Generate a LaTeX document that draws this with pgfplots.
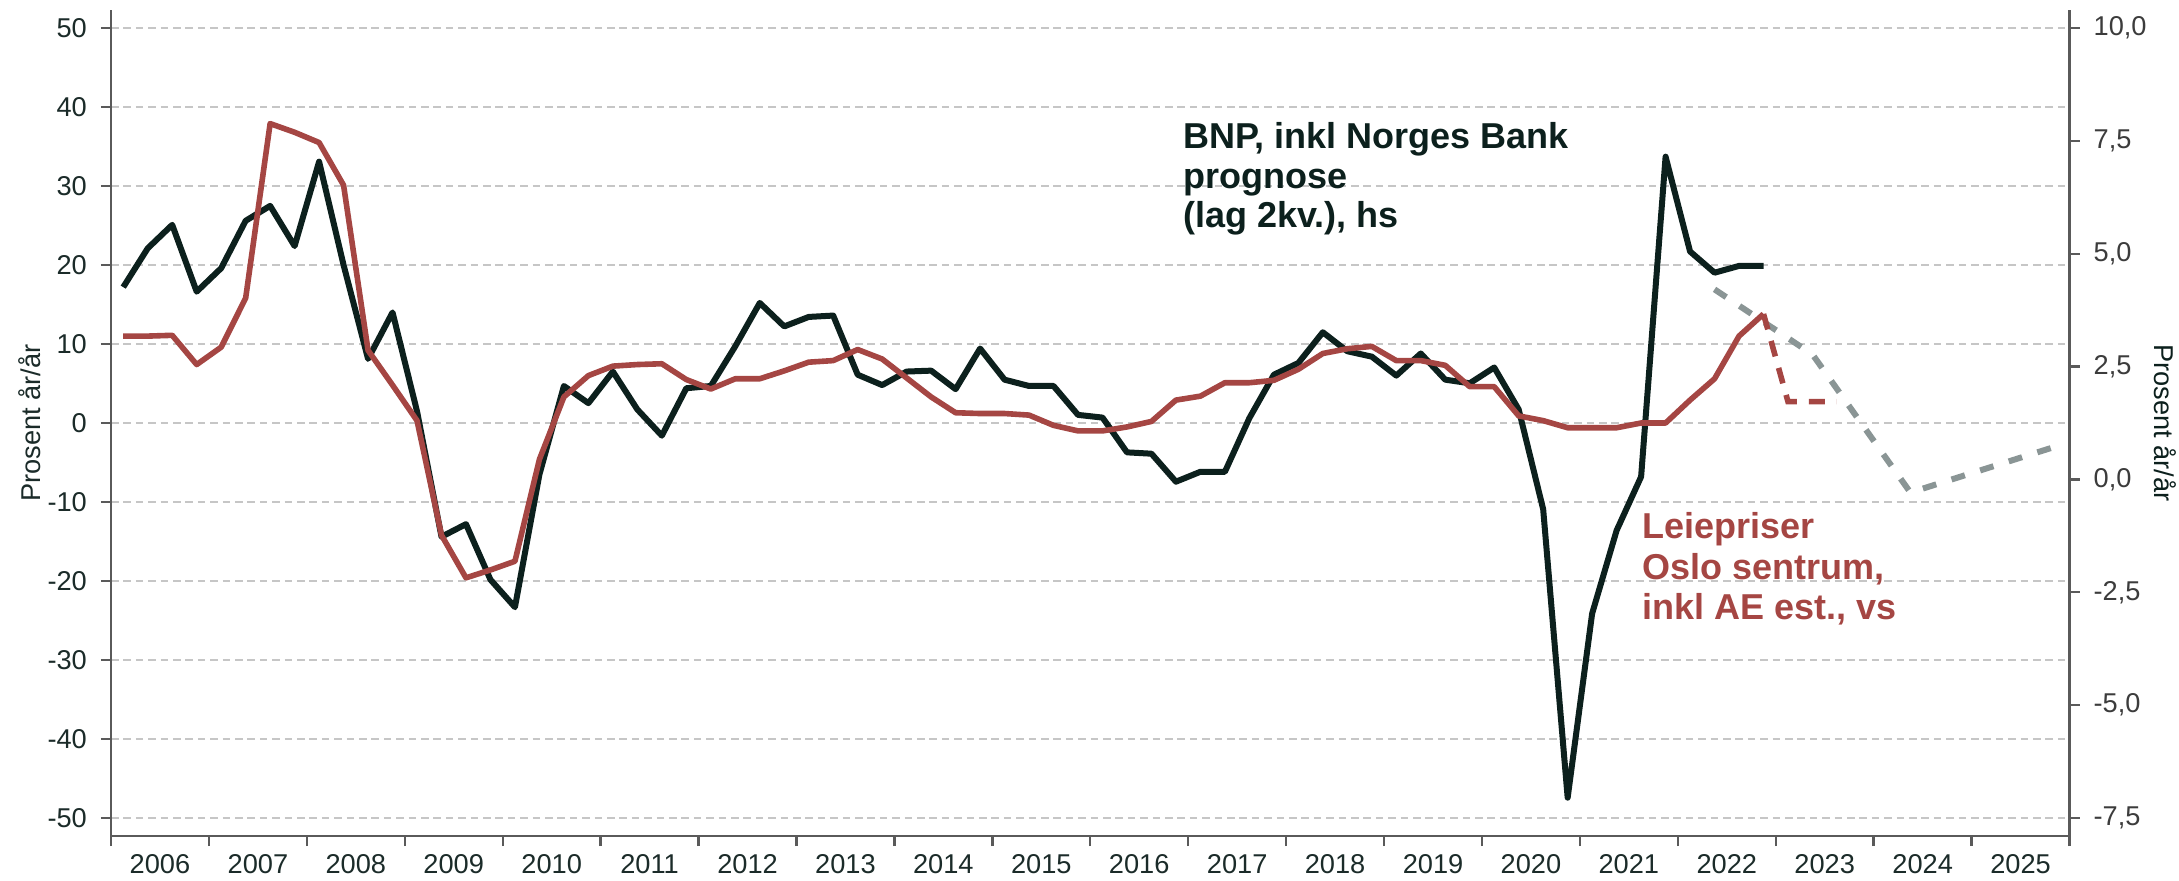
\documentclass[border=0pt]{standalone}
\usepackage{pgfplots}
\pgfplotsset{compat=1.18}
\usepackage{fontspec}
\setmainfont{Liberation Sans}
\definecolor{bnp}{HTML}{0C201D}
\definecolor{leie}{HTML}{A54643}
\definecolor{fcst}{HTML}{8A9595}
\definecolor{gridc}{HTML}{C6C6C6}
\definecolor{axc}{HTML}{5A5A5A}
\definecolor{lab}{HTML}{1B2B29}
\definecolor{rlab}{HTML}{3C3C3C}
\begin{document}
\begin{tikzpicture}
\path[use as bounding box] (-27.75pt,-11pt) rectangle (517pt,209pt);
\pgfplotsset{
  base/.style={
    scale only axis, width=489.625pt, height=206.5pt,
    xmin=-0.5, xmax=79.5,
    /pgf/number format/assume math mode=true,
    tick align=outside, major tick length=2.5pt, minor tick length=2.5pt,
    axis line style={-, draw=axc, line width=0.6pt},
    tick style={draw=axc, line width=0.6pt},
  }
}
% left axis with grid
\begin{axis}[base,
  ymin=-52.28, ymax=52.28,
  axis x line*=bottom, axis y line*=left,
  ytick={-50,-40,...,50},
  ymajorgrids, grid style={dashed, dash pattern=on 1.9pt off 1.2pt, draw=gridc, line width=0.5pt},
  yticklabel style={font=\fontsize{6.8}{8}\selectfont, text=lab},
  xtick={-0.5,3.5,...,79.5}, xticklabels={},
  extra x ticks={1.5,5.5,...,77.5},
  extra x tick labels={2006,2007,2008,2009,2010,2011,2012,2013,2014,2015,2016,2017,2018,2019,2020,2021,2022,2023,2024,2025},
  extra x tick style={major tick length=0pt, grid=none, xticklabel style={font=\fontsize{6.8}{8}\selectfont, text=lab, yshift=-1.2pt}},
]
\addplot[draw=none, forget plot] coordinates {(0,0)};
\end{axis}
% right axis: BNP
\begin{axis}[base,
  ymin=-7.899, ymax=10.399,
  axis y line*=right, axis x line=none,
  ytick={-7.5,-5,...,10},
  yticklabel style={font=\fontsize{6.8}{8}\selectfont, text=rlab,
    /pgf/number format/.cd, fixed, fixed zerofill, precision=1, use comma},
]
\addplot[color=bnp, line width=1.5pt, line join=round] coordinates {
(0,4.26)(1,5.12)(2,5.64)(3,4.16)(4,4.68)(5,5.73)(6,6.06)(7,5.17)(8,7.04)(9,4.75)
(10,2.67)(11,3.70)(12,1.51)(13,-1.27)(14,-0.99)(15,-2.22)(16,-2.83)(17,0.11)(18,2.07)(19,1.69)
(20,2.39)(21,1.55)(22,0.97)(23,2.02)(24,2.07)(25,2.95)(26,3.91)(27,3.39)(28,3.60)(29,3.63)
(30,2.32)(31,2.09)(32,2.39)(33,2.41)(34,2.00)(35,2.90)(36,2.21)(37,2.07)(38,2.07)(39,1.43)
(40,1.37)(41,0.60)(42,0.57)(43,-0.05)(44,0.17)(45,0.17)(46,1.36)(47,2.32)(48,2.58)(49,3.26)
(50,2.84)(51,2.72)(52,2.30)(53,2.79)(54,2.21)(55,2.13)(56,2.48)(57,1.55)(58,-0.66)(59,-7.05)
(60,-2.97)(61,-1.13)(62,0.06)(63,7.15)(64,5.05)(65,4.58)(66,4.73)(67,4.73)
};
\addplot[color=fcst, line width=1.5pt, dash pattern=on 3.5pt off 4pt] coordinates {
(65,4.21)(69,2.77)(73,-0.29)(79,0.74)
};
\end{axis}
% left scale again: Leiepriser
\begin{axis}[base,
  ymin=-52.28, ymax=52.28,
  hide axis, clip=false,
]
\addplot[color=leie, line width=1.4pt, line join=round] coordinates {
(0,11.0)(1,11.0)(2,11.1)(3,7.4)(4,9.6)(5,15.8)(6,37.9)(7,36.8)(8,35.5)(9,30.1)
(10,9.2)(11,4.8)(12,0.3)(13,-14.2)(14,-19.6)(15,-18.6)(16,-17.5)(17,-4.6)(18,3.3)(19,6.0)
(20,7.2)(21,7.4)(22,7.5)(23,5.5)(24,4.3)(25,5.6)(26,5.6)(27,6.6)(28,7.7)(29,7.9)
(30,9.3)(31,8.1)(32,5.7)(33,3.3)(34,1.3)(35,1.2)(36,1.2)(37,1.0)(38,-0.3)(39,-1.0)
(40,-1.0)(41,-0.5)(42,0.2)(43,2.9)(44,3.4)(45,5.1)(46,5.1)(47,5.4)(48,6.8)(49,8.8)
(50,9.4)(51,9.7)(52,7.9)(53,7.9)(54,7.3)(55,4.6)(56,4.6)(57,0.9)(58,0.3)(59,-0.6)
(60,-0.6)(61,-0.6)(62,0.0)(63,0.0)(64,2.9)(65,5.6)(66,11.0)(67,13.8)
};
\addplot[color=leie, line width=1.4pt, dash pattern=on 4pt off 3pt] coordinates {
(67,13.8)(68,2.7)(69,2.7)(70,2.7)
};
\node[anchor=north west, inner sep=0pt, align=left, text=bnp,
  font=\fontsize{9}{9.8}\selectfont\bfseries] at (axis cs:43.26,38.1)
  {BNP, inkl Norges Bank\\prognose\\(lag 2kv.), hs};
\node[anchor=north west, inner sep=0pt, align=left, text=leie,
  font=\fontsize{9}{10.2}\selectfont\bfseries] at (axis cs:62.04,-11.2)
  {Leiepriser\\Oslo sentrum,\\inkl AE est., vs};
\node[rotate=90, anchor=center, text=lab, font=\fontsize{6.8}{8}\selectfont]
  at (axis description cs:-0.0414,0.5) {Prosent år/år};
\node[rotate=-90, anchor=center, text=bnp, font=\fontsize{6.8}{8}\selectfont]
  at (axis description cs:1.0488,0.5) {Prosent år/år};
\end{axis}
\end{tikzpicture}
\end{document}
